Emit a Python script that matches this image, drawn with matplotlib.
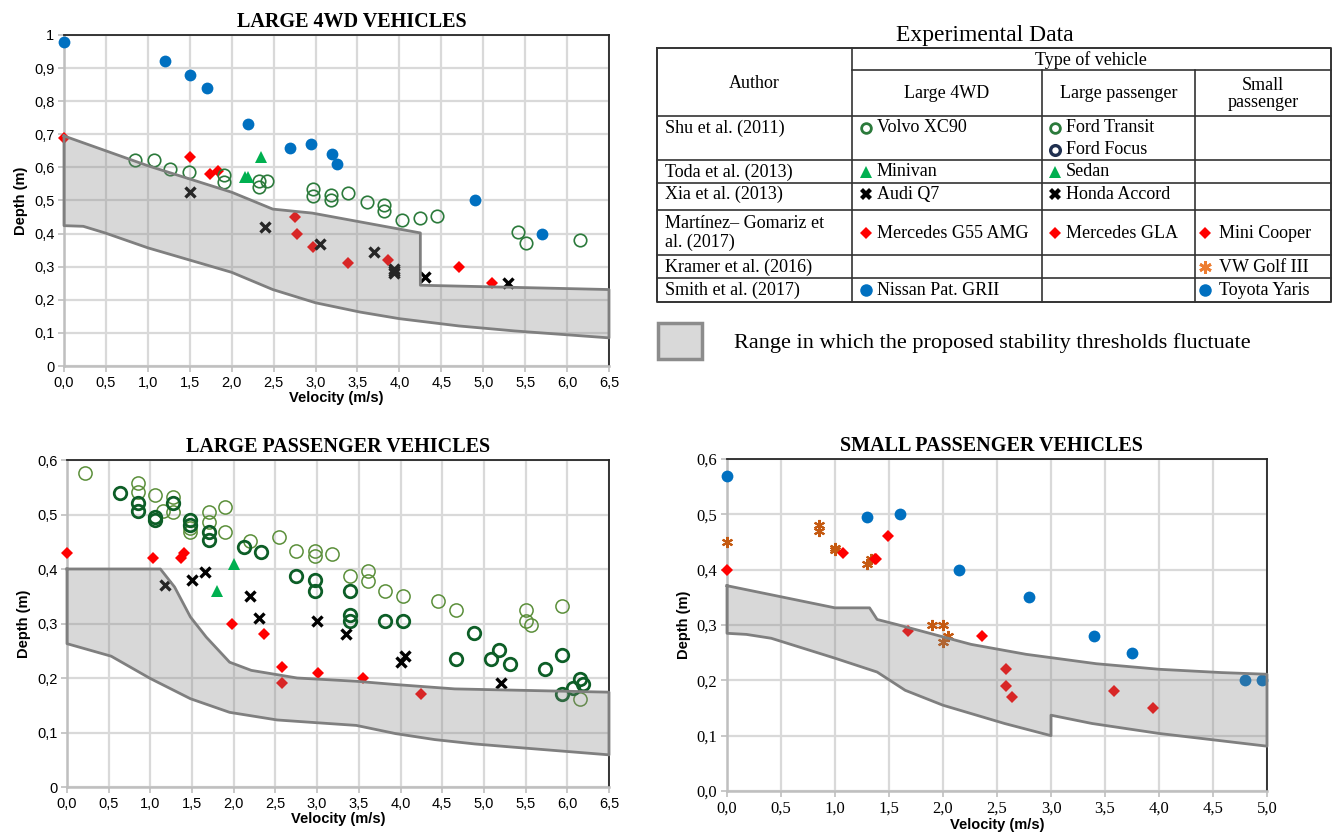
import numpy as np
import matplotlib.pyplot as plt
from matplotlib.patches import Rectangle

SERIF = 'Liberation Serif'
SANS = 'Liberation Sans'

# ---------------- Large 4WD vehicles ----------------
nissan_v = [0.0, 1.2, 1.5, 1.7, 2.2, 2.7, 2.95, 3.2, 3.25, 4.9, 5.7]
nissan_d = [0.98, 0.92, 0.88, 0.84, 0.73, 0.66, 0.67, 0.64, 0.61, 0.50, 0.40]
g55_v = [0.0, 1.5, 1.74, 1.84, 2.75, 2.78, 2.97, 3.39, 3.87, 4.71, 5.11]
g55_d = [0.69, 0.63, 0.58, 0.59, 0.45, 0.40, 0.36, 0.31, 0.32, 0.30, 0.25]
volvo_v = [0.85, 1.07, 1.27, 1.49, 1.91, 1.91, 2.33, 2.33, 2.42, 2.97, 2.97, 3.18,
           3.18, 3.39, 3.61, 3.82, 3.82, 4.03, 4.24, 4.45, 5.42, 5.51, 6.15]
volvo_d = [0.622, 0.622, 0.595, 0.586, 0.578, 0.555, 0.558, 0.541, 0.558, 0.536, 0.514, 0.516,
           0.503, 0.523, 0.495, 0.487, 0.469, 0.442, 0.447, 0.454, 0.406, 0.373, 0.380]
minivan_v = [2.35, 2.16, 2.19]
minivan_d = [0.63, 0.57, 0.57]
audi_v = [1.50, 2.40, 3.05, 3.70, 3.94, 3.94, 3.94, 4.30, 5.30]
audi_d = [0.525, 0.42, 0.37, 0.345, 0.293, 0.286, 0.280, 0.27, 0.25]
band1_up_v = [0.0, 1.0, 2.0, 2.49, 2.96, 4.25, 4.25, 6.5]
band1_up_d = [0.695, 0.605, 0.525, 0.474, 0.462, 0.402, 0.244, 0.231]
band1_lo_v = [0.0, 0.23, 0.49, 1.0, 1.5, 2.0, 2.49, 3.0, 3.53, 4.0, 4.71, 5.37, 6.5]
band1_lo_d = [0.424, 0.422, 0.402, 0.357, 0.32, 0.283, 0.231, 0.191, 0.163, 0.143, 0.121, 0.106, 0.085]

# ---------------- Large passenger vehicles ----------------
transit_v = [0.21, 0.85, 0.85, 1.06, 1.15, 1.27, 1.27, 1.48, 1.48, 1.70, 1.70, 1.90, 1.90,
             2.20, 2.54, 2.75, 2.97, 2.97, 3.18, 3.39, 3.61, 3.61, 3.81, 4.03, 4.45, 4.67,
             5.51, 5.51, 5.57, 5.94, 6.15]
transit_d = [0.576, 0.558, 0.541, 0.535, 0.506, 0.532, 0.504, 0.475, 0.467, 0.505, 0.486, 0.513, 0.467,
             0.451, 0.459, 0.433, 0.433, 0.423, 0.428, 0.387, 0.396, 0.378, 0.359, 0.351, 0.342, 0.324,
             0.324, 0.305, 0.298, 0.333, 0.162]
focus_v = [0.63, 0.85, 0.85, 1.06, 1.06, 1.27, 1.48, 1.48, 1.70, 1.70, 2.12, 2.33, 2.75,
           2.97, 2.97, 3.39, 3.39, 3.39, 3.81, 4.03, 4.88, 4.67, 5.09, 5.18, 5.31, 5.73,
           5.94, 5.94, 6.07, 6.15, 6.19]
focus_d = [0.540, 0.522, 0.507, 0.496, 0.489, 0.522, 0.490, 0.481, 0.467, 0.454, 0.440, 0.432, 0.387,
           0.379, 0.359, 0.359, 0.316, 0.305, 0.305, 0.305, 0.283, 0.235, 0.234, 0.251, 0.225, 0.217,
           0.243, 0.171, 0.181, 0.199, 0.189]
sedan_v = [2.0, 1.80]
sedan_d = [0.409, 0.359]
honda_v = [1.18, 1.50, 1.65, 2.20, 2.30, 3.0, 3.35, 4.0, 4.05, 5.20]
honda_d = [0.37, 0.38, 0.394, 0.35, 0.31, 0.305, 0.28, 0.23, 0.24, 0.19]
gla_v = [0.0, 1.03, 1.37, 1.40, 1.98, 2.36, 2.58, 2.58, 3.01, 3.55, 4.24]
gla_d = [0.43, 0.42, 0.42, 0.43, 0.30, 0.28, 0.22, 0.19, 0.21, 0.20, 0.17]
band2_up_v = [0.0, 1.12, 1.29, 1.48, 1.67, 1.95, 2.21, 2.76, 3.47, 3.94, 4.65, 6.5]
band2_up_d = [0.40, 0.40, 0.367, 0.312, 0.275, 0.229, 0.214, 0.20, 0.194, 0.188, 0.18, 0.174]
band2_lo_v = [0.0, 0.53, 1.0, 1.48, 1.95, 2.52, 2.99, 3.47, 3.94, 4.41, 4.89, 5.36, 6.5]
band2_lo_d = [0.263, 0.240, 0.199, 0.162, 0.137, 0.123, 0.118, 0.113, 0.098, 0.087, 0.079, 0.073, 0.059]

# ---------------- Small passenger vehicles ----------------
yaris_v = [0.0, 1.30, 1.60, 2.15, 2.80, 3.40, 3.75, 4.80, 4.95]
yaris_d = [0.57, 0.495, 0.50, 0.40, 0.35, 0.28, 0.25, 0.20, 0.20]
mini_v = [0.0, 1.07, 1.37, 1.38, 1.49, 1.68, 2.36, 2.58, 2.58, 2.64, 3.58, 3.94]
mini_d = [0.40, 0.43, 0.42, 0.42, 0.46, 0.29, 0.28, 0.22, 0.19, 0.17, 0.18, 0.15]
golf_v = [0.0, 0.85, 0.85, 1.0, 1.0, 1.30, 1.33, 1.90, 2.0, 2.0, 2.05]
golf_d = [0.45, 0.48, 0.47, 0.44, 0.435, 0.41, 0.42, 0.30, 0.30, 0.27, 0.28]
band3_up_v = [0.0, 1.0, 1.32, 1.39, 1.57, 2.26, 2.77, 3.0, 3.42, 4.0, 4.58, 5.0]
band3_up_d = [0.371, 0.331, 0.331, 0.31, 0.301, 0.265, 0.247, 0.241, 0.23, 0.22, 0.214, 0.211]
band3_lo_v = [0.0, 0.18, 0.41, 1.0, 1.39, 1.65, 2.0, 2.57, 3.0, 3.0, 3.38, 4.0, 5.0]
band3_lo_d = [0.285, 0.283, 0.276, 0.24, 0.215, 0.182, 0.155, 0.122, 0.10, 0.137, 0.122, 0.104, 0.081]

# tick labels
x_labels_65 = ['0,0', '0,5', '1,0', '1,5', '2,0', '2,5', '3,0', '3,5', '4,0', '4,5', '5,0', '5,5', '6,0', '6,5']
x_labels_50 = ['0,0', '0,5', '1,0', '1,5', '2,0', '2,5', '3,0', '3,5', '4,0', '4,5', '5,0']
y_labels_4wd = ['0', '0,1', '0,2', '0,3', '0,4', '0,5', '0,6', '0,7', '0,8', '0,9', '1']
y_labels_lp = ['0', '0,1', '0,2', '0,3', '0,4', '0,5', '0,6']
y_labels_sp = ['0,0', '0,1', '0,2', '0,3', '0,4', '0,5', '0,6']

BLUE = '#0070c0'
RED = '#ff0000'
TRI = '#00b050'
VOLVO = '#2b7a3b'
TRANSIT = '#5b8f3a'
FOCUS = '#0d5e27'
ORANGE = '#c55a11'

fig = plt.figure(figsize=(13.34, 8.38), dpi=100)


def setup(ax, xmax, ymax, xlabels, ylabels, tickfont, title, title_x=0.5):
    ax.set_xlim(0, xmax)
    ax.set_ylim(0, ymax)
    fs = 10.5 if tickfont == SANS else 12
    ax.set_xticks(np.linspace(0, xmax, len(xlabels)))
    ax.set_xticklabels(xlabels, family=tickfont, fontsize=fs)
    ax.set_yticks(np.linspace(0, ymax, len(ylabels)))
    ax.set_yticklabels(ylabels, family=tickfont, fontsize=fs)
    ax.grid(True, color='#d9d9d9', linewidth=1.6)
    ax.set_axisbelow(True)
    ax.tick_params(length=4, width=1.2, color='#bfbfbf', pad=3)
    for s in ['left', 'bottom']:
        ax.spines[s].set_color('#bfbfbf')
        ax.spines[s].set_linewidth(1.8)
    for s in ['top', 'right']:
        ax.spines[s].set_color('#262626')
        ax.spines[s].set_linewidth(1.3)
    ax.set_xlabel('Velocity (m/s)', family=SANS, fontweight='bold', fontsize=10.5, labelpad=1)
    ax.set_ylabel('Depth (m)', family=SANS, fontweight='bold', fontsize=10.5)
    ax.set_title(title, family=SERIF, fontweight='bold', fontsize=14.5, pad=6, x=title_x)


def band(ax, uv, ud, lv, ld):
    xs = np.concatenate([uv, lv[::-1]])
    ys = np.concatenate([ud, ld[::-1]])
    ax.fill(xs, ys, facecolor='#808080', alpha=0.3, edgecolor='none', zorder=4)
    ax.plot(np.append(xs, xs[0]), np.append(ys, ys[0]), color='#7f7f7f', lw=2.0,
            zorder=5, clip_on=False, solid_joinstyle='round')


def pts(ax, v, d, **kw):
    ax.plot(v, d, linestyle='none', clip_on=False, zorder=3, **kw)


circ = dict(marker='o', markersize=8.5, color=BLUE, markeredgewidth=0)
diam = dict(marker='D', markersize=6.3, color=RED, markeredgewidth=0)
cross = dict(marker='x', markersize=6.5, color='black', markeredgewidth=2.4)
tri = dict(marker='^', markersize=8.5, color=TRI, markeredgewidth=0)

# Panel 1
ax1 = fig.add_axes([64 / 1334, 1 - 366 / 838, 545 / 1334, 331 / 838])
setup(ax1, 6.5, 1.0, x_labels_65, y_labels_4wd, SANS, 'LARGE 4WD VEHICLES', title_x=0.528)
pts(ax1, nissan_v, nissan_d, **circ)
pts(ax1, g55_v, g55_d, **diam)
pts(ax1, volvo_v, volvo_d, marker='o', markersize=9, markerfacecolor='none',
    markeredgecolor=VOLVO, markeredgewidth=1.2)
pts(ax1, minivan_v, minivan_d, **tri)
pts(ax1, audi_v, audi_d, **cross)
band(ax1, band1_up_v, band1_up_d, band1_lo_v, band1_lo_d)

# Panel 2
ax2 = fig.add_axes([67 / 1334, 1 - 787 / 838, 542 / 1334, 327 / 838])
setup(ax2, 6.5, 0.6, x_labels_65, y_labels_lp, SANS, 'LARGE PASSENGER VEHICLES')
pts(ax2, transit_v, transit_d, marker='o', markersize=9.5, markerfacecolor='none',
    markeredgecolor=TRANSIT, markeredgewidth=1.1)
pts(ax2, focus_v, focus_d, marker='o', markersize=9, markerfacecolor='none',
    markeredgecolor=FOCUS, markeredgewidth=2.0)
pts(ax2, sedan_v, sedan_d, **tri)
pts(ax2, honda_v, honda_d, **cross)
pts(ax2, gla_v, gla_d, **diam)
band(ax2, band2_up_v, band2_up_d, band2_lo_v, band2_lo_d)

# Panel 3
ax3 = fig.add_axes([727 / 1334, 1 - 791 / 838, 540 / 1334, 332 / 838])
setup(ax3, 5.0, 0.6, x_labels_50, y_labels_sp, SERIF, 'SMALL PASSENGER VEHICLES', title_x=0.49)
pts(ax3, yaris_v, yaris_d, **circ)
pts(ax3, golf_v, golf_d, marker=(6, 2, 0), markersize=8, color=ORANGE, markeredgewidth=1.5)
pts(ax3, mini_v, mini_d, **diam)
band(ax3, band3_up_v, band3_up_d, band3_lo_v, band3_lo_d)

# ---------------- Table of experimental data ----------------
authors = ['Shu et al. (2011)', 'Toda et al. (2013)', 'Xia et al. (2013)',
           'Martínez– Gomariz et\nal. (2017)', 'Kramer et al. (2016)', 'Smith et al. (2017)']
vehicle_types = ['Large 4WD', 'Large passenger', 'Small\npassenger']

tb = fig.add_axes([0, 0, 1, 1])
tb.set_xlim(0, 1334)
tb.set_ylim(838, 0)
tb.axis('off')

col_x = [657, 852, 1042, 1195, 1331]
row_y = [48, 70, 116, 160, 183, 210, 255, 278, 302]
lc = '#333333'
tb.plot([col_x[0], col_x[-1], col_x[-1], col_x[0], col_x[0]],
        [row_y[0], row_y[0], row_y[-1], row_y[-1], row_y[0]], color=lc, lw=1.4)
tb.plot([col_x[1], col_x[-1]], [row_y[1], row_y[1]], color=lc, lw=1.2)
for y in row_y[2:-1]:
    tb.plot([col_x[0], col_x[-1]], [y, y], color=lc, lw=1.2)
tb.plot([col_x[1], col_x[1]], [row_y[0], row_y[-1]], color=lc, lw=1.2)
for x in col_x[2:4]:
    tb.plot([x, x], [row_y[1], row_y[-1]], color=lc, lw=1.2)

tf = dict(family=SERIF, fontsize=13, color='black')
tb.text(985, 36, 'Experimental Data', ha='center', va='center', family=SERIF, fontsize=17)
tb.text(1091, 60, 'Type of vehicle', ha='center', va='center', **tf)
tb.text(754, 84, 'Author', ha='center', va='center', **tf)
for cx0, cx1, name in zip(col_x[1:4], col_x[2:5], vehicle_types):
    tb.text((cx0 + cx1) / 2, 94, name, ha='center', va='center', linespacing=1.05, **tf)
author_y = [128, 172, 194, 233, 267, 290]
for y, name in zip(author_y, authors):
    tb.text(665, y, name, ha='left', va='center', linespacing=1.15, **tf)

mk_x = [866, 1055, 1205]
tx_x = [877, 1066, 1219]
entries = [
    (0, 128, 'Volvo XC90', dict(marker='o', ms=7, mfc='none', mec=VOLVO, mew=2.0)),
    (1, 128, 'Ford Transit', dict(marker='o', ms=7, mfc='none', mec=VOLVO, mew=2.0)),
    (1, 150, 'Ford Focus', dict(marker='o', ms=7, mfc='none', mec='#1f2f4f', mew=2.4)),
    (0, 172, 'Minivan', dict(marker='^', ms=9, color=TRI, mew=0)),
    (1, 172, 'Sedan', dict(marker='^', ms=9, color=TRI, mew=0)),
    (0, 194, 'Audi Q7', dict(marker='X', ms=9, color='black', mew=0)),
    (1, 194, 'Honda Accord', dict(marker='X', ms=9, color='black', mew=0)),
    (0, 233, 'Mercedes G55 AMG', dict(marker='D', ms=6.5, color=RED, mew=0)),
    (1, 233, 'Mercedes GLA', dict(marker='D', ms=6.5, color=RED, mew=0)),
    (2, 233, 'Mini Cooper', dict(marker='D', ms=6.5, color=RED, mew=0)),
    (2, 267, 'VW Golf III', dict(marker=(6, 2, 0), ms=9, color='#ed7d31', mew=2.0)),
    (0, 290, 'Nissan Pat. GRII', dict(marker='o', ms=9, color=BLUE, mew=0)),
    (2, 290, 'Toyota Yaris', dict(marker='o', ms=9, color=BLUE, mew=0)),
]
for col, y, label, style in entries:
    tb.plot([mk_x[col]], [y], linestyle='none', **style)
    tb.text(tx_x[col], y, label, ha='left', va='center', **tf)

tb.add_patch(Rectangle((658, 323), 44, 36, facecolor='#d9d9d9', edgecolor='#8c8c8c', lw=2.5))
tb.text(734, 343, 'Range in which the proposed stability thresholds fluctuate',
        ha='left', va='center', family=SERIF, fontsize=16)

fig.savefig('out.png', dpi=100)
